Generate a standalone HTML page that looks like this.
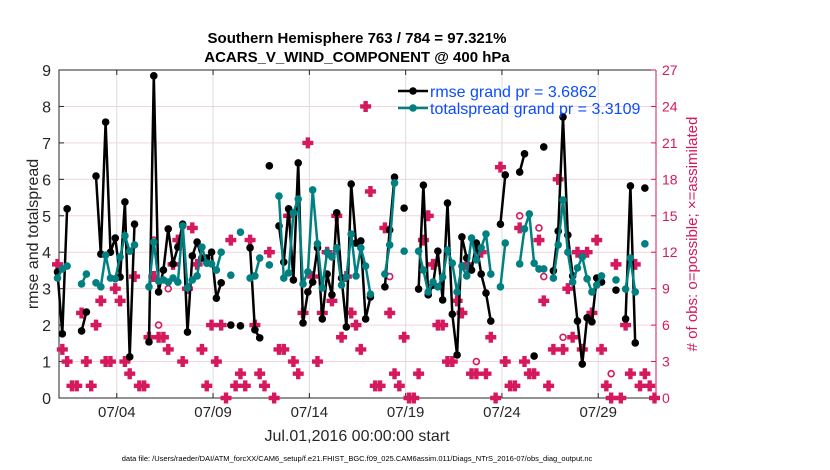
<!DOCTYPE html>
<html><head><meta charset="utf-8"><style>
body{margin:0;background:#fff;}
svg{display:block;font-family:"Liberation Sans",sans-serif;}
</style></head><body>
<svg id="chart" width="830" height="470" viewBox="0 0 830 470"></svg>
<script>
const rmse=[3.46,1.76,5.19,null,null,1.84,2.36,null,6.09,3.95,7.57,4.0,4.39,3.32,5.38,1.13,4.77,null,null,1.54,8.84,2.91,3.51,4.64,3.68,4.14,4.77,1.81,3.9,4.28,3.84,3.84,4.0,2.74,3.16,null,2.0,null,1.98,null,4.12,1.87,1.65,null,6.37,null,4.72,3.73,5.19,3.24,6.45,2.06,2.91,3.18,4.12,2.17,3.4,2.83,5.08,3.29,1.95,5.87,4.25,4.31,2.17,2.77,null,null,3.05,4.61,6.06,null,5.21,null,null,2.99,5.84,2.83,3.1,4.03,2.69,5.35,2.3,1.18,4.42,3.84,3.51,4.25,3.4,2.88,2.11,null,4.77,6.12,null,null,6.2,6.7,null,1.15,null,6.89,null,3.49,4.58,7.71,4.47,3.35,2.11,0.93,2.2,2.09,3.29,3.18,null,null,2.96,null,2.17,5.82,1.51,null,5.76,null,null];
const spread=[3.29,3.54,3.62,null,null,3.13,3.4,null,3.16,3.05,3.92,3.29,3.27,3.87,4.45,4.03,4.2,null,null,3.05,4.28,3.21,3.24,3.18,3.29,3.18,4.72,3.02,3.24,3.35,4.14,3.7,3.68,3.51,4.0,null,3.37,null,4.55,null,3.29,3.35,3.84,null,3.65,null,5.54,3.29,3.43,5.08,5.46,3.13,3.46,5.71,4.23,3.02,4.0,3.87,4.12,3.1,3.32,4.5,3.35,4.12,3.62,2.85,null,null,3.4,4.2,5.9,null,4.03,null,null,4.03,3.51,2.91,3.18,3.05,3.32,4.06,3.7,2.91,3.62,3.35,4.39,3.79,4.12,4.5,3.4,null,3.05,4.25,null,null,3.68,4.64,5.05,3.7,3.54,3.54,null,3.29,4.2,5.43,4.0,3.18,3.57,3.87,3.27,2.91,3.1,3.35,null,null,3.24,null,2.99,3.84,2.91,null,4.23,null,null];
const assim=[11,4,3,1,1,7,3,1,6,8,3,3,9,8,3,2,10,1,1,5,10,5,5,4,11,13,3,9,14,11,4,1,6,3,6,0,13,1,2,1,13,6,2,1,12,0,4,4,15,3,2,7,21,10,3,7,12,8,15,5,10,7,6,4,24,17,1,1,14,7,2,1,5,0,0,2,13,15,11,6,6,3,3,8,7,11,2,2,12,2,5,0,19,3,1,1,14,3,2,2,13,8,1,4,18,4,9,5,12,4,12,7,13,4,1,0,11,0,6,2,11,1,2,1,0];
const possibleIdx=[20,21,23,69,87,96,100,101,105,115];
const possibleVal=[13,6,9,10,3,15,14,10,5,2];
const leftTicks=[0,1,2,3,4,5,6,7,8,9];
const rightTicks=[0,3,6,9,12,15,18,21,24,27];
const dateTicks=[3,8,13,18,23,28];
const dateLabels=["07/04","07/09","07/14","07/19","07/24","07/29"];
const NS="http://www.w3.org/2000/svg";
const svg=document.getElementById('chart');
const X0=59,X1=656,Y0=398,Y1=70;
const xs=d=>X0+(d/31)*(X1-X0);
const xi=i=>xs(i/4)-1.5;
const yl=v=>Y0-(v/9)*(Y0-Y1);
const yr=v=>Y0-(v/27)*(Y0-Y1);
function mk(tag,attrs,parent){const e=document.createElementNS(NS,tag);for(const k in attrs)e.setAttribute(k,attrs[k]);(parent||svg).appendChild(e);return e;}
function txt(s,attrs){const e=mk('text',attrs);e.textContent=s;return e;}
rightTicks.forEach(t=>{const g=mk('line',{x1:X0,x2:X1,y1:yr(t),y2:yr(t),stroke:'#f3d3df','stroke-width':1});

});
dateTicks.forEach(d=>{const g=mk('line',{x1:xs(d),x2:xs(d),y1:Y1,y2:Y0,stroke:'#dcdcdc','stroke-width':1});

});
const ax=mk('path',{d:`M${X1},${Y1}H${X0}V${Y0}H${X1}`,fill:'none',stroke:'#262626','stroke-width':1});


const rax=mk('line',{x1:X1,x2:X1,y1:Y1,y2:Y0,stroke:'#d6195e','stroke-width':1});


leftTicks.forEach(t=>{mk('line',{x1:X0,x2:X0+5,y1:yl(t),y2:yl(t),stroke:'#262626'});
const l=txt(String(t),{x:X0-8,y:yl(t)+6,'text-anchor':'end','font-size':16,fill:'#262626'});

});
rightTicks.forEach(t=>{mk('line',{x1:X1-5,x2:X1,y1:yr(t),y2:yr(t),stroke:'#d6195e'});
const l=txt(String(t),{x:X1+6,y:yr(t)+5,'font-size':14,fill:'#d6195e'});

});
dateTicks.forEach((d,k)=>{mk('line',{x1:xs(d),x2:xs(d),y1:Y0,y2:Y0-5,stroke:'#262626'});mk('line',{x1:xs(d),x2:xs(d),y1:Y1,y2:Y1+5,stroke:'#262626'});
const l=txt(dateLabels[k],{x:xs(d),y:Y0+19,'text-anchor':'middle','font-size':15,fill:'#262626'});

});
function plus(cx,cy,name){const p=mk('path',{d:`M${cx-2.2},${cy-5.5}h4.4v3.3h3.3v4.4h-3.3v3.3h-4.4v-3.3h-3.3v-4.4h3.3z`,fill:'#d6195e'});

}
assim.forEach((v,i)=>{if(v!=null)plus(xi(i),yr(v),'assimilated-marker');});
possibleIdx.forEach((i,k)=>{const c=mk('circle',{cx:xi(i),cy:yr(possibleVal[k]),r:3,fill:'none',stroke:'#d6195e','stroke-width':1.6});

});
function series(vals,color,name){let d='';let pen=false;vals.forEach((v,i)=>{if(v==null){pen=false;return;}d+=(pen?'L':'M')+xi(i).toFixed(1)+','+yl(v).toFixed(1);pen=true;});
const p=mk('path',{d,fill:'none',stroke:color,'stroke-width':2.5,'stroke-linejoin':'round'});


vals.forEach((v,i)=>{if(v==null)return;const c=mk('circle',{cx:xi(i),cy:yl(v),r:3.8,fill:color});

});}
series(rmse,'#000','rmse');
series(spread,'#008080','totalspread');
const lg=mk('g',{});


mk('line',{x1:398,x2:428,y1:91,y2:91,stroke:'#000','stroke-width':2.5},lg);mk('circle',{cx:413,cy:91,r:3.8,fill:'#000'},lg);
mk('line',{x1:398,x2:428,y1:108,y2:108,stroke:'#008080','stroke-width':2.5},lg);mk('circle',{cx:413,cy:108,r:3.8,fill:'#008080'},lg);
const t1=txt('rmse grand pr = 3.6862',{x:430,y:97,'font-size':16,fill:'#0a4cff'});


const t2=txt('totalspread grand pr = 3.3109',{x:430,y:114,'font-size':16,fill:'#0a4cff'});


const ti1=txt('Southern Hemisphere 763 / 784 = 97.321%',{x:357,y:43,'text-anchor':'middle','font-size':15,'font-weight':'bold',fill:'#000'});


const ti2=txt('ACARS_V_WIND_COMPONENT @ 400 hPa',{x:357,y:62,'text-anchor':'middle','font-size':15,'font-weight':'bold',fill:'#000'});


const yt=txt('rmse and totalspread',{x:0,y:0,'text-anchor':'middle','font-size':16,fill:'#262626',transform:'translate(38,234) rotate(-90)'});


const rt=txt('# of obs: o=possible; \u00d7=assimilated',{x:0,y:0,'text-anchor':'middle','font-size':15,fill:'#d6195e',transform:'translate(697,234) rotate(-90)'});


const xt=txt('Jul.01,2016 00:00:00 start',{x:357,y:441,'text-anchor':'middle','font-size':16,fill:'#262626'});


const ft=txt('data file: /Users/raeder/DAI/ATM_forcXX/CAM6_setup/f.e21.FHIST_BGC.f09_025.CAM6assim.011/Diags_NTrS_2016-07/obs_diag_output.nc',{x:357,y:461,'text-anchor':'middle','font-size':7.5,fill:'#000'});


</script>
</body></html>
